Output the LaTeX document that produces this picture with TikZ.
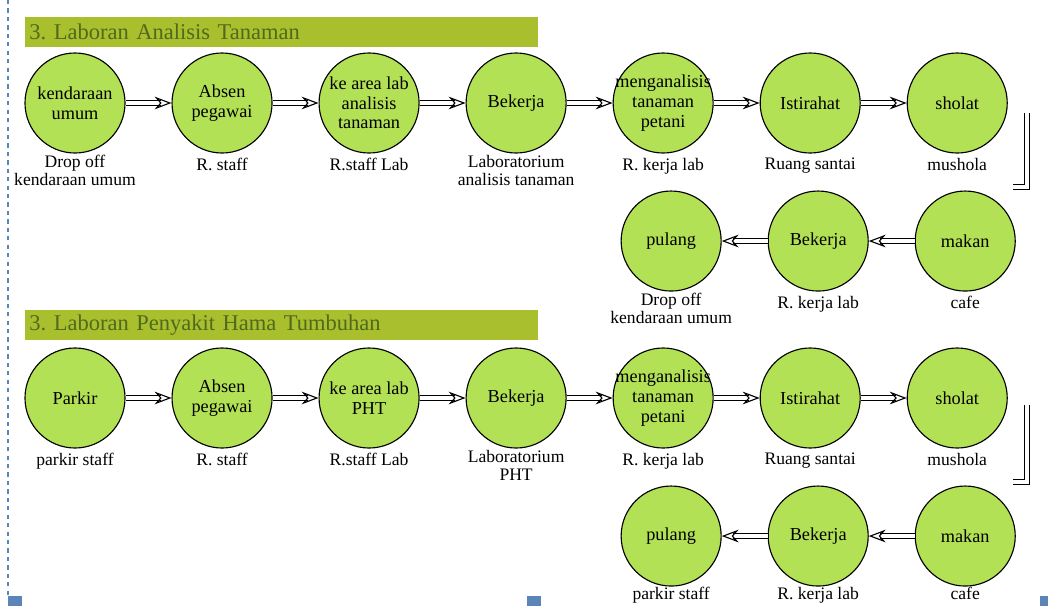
\documentclass[tikz,border=0pt]{standalone}
\usepackage{fontspec}
\setmainfont{Liberation Serif}
\usetikzlibrary{positioning,arrows.meta}
\definecolor{barolive}{HTML}{A9BF2E}
\definecolor{titlegreen}{HTML}{4F6A1C}
\definecolor{circlegreen}{HTML}{B3E155}
\definecolor{edgeblue}{HTML}{5B84B8}

\begin{document}
\frenchspacing
\begin{tikzpicture}[x=0.025cm,y=-0.025cm,
        every node/.style={inner sep=0pt},
        proc/.style={circle,draw,thick,fill=circlegreen,minimum size=2.5cm,on grid,node distance=3.675cm,
          label={[align=center,font=\fontsize{13}{14}\selectfont]center:#1}},
        place/.style={align=center,font=\fontsize{12.5}{13}\selectfont},
        flow/.style={double,double distance=2.5pt,thick,-{Stealth[open,length=12pt,width=9pt]}},
        bracket/.style={double,double distance=2.5pt,thick},
        titlebar/.style={fill=barolive,text=titlegreen,anchor=north west,minimum height=0.75cm,
          text width=12.6cm,inner xsep=3pt,align=left,font=\fontsize{16}{16}\selectfont}]
   \useasboundingbox (0,0) rectangle (1048,606);
   % frame marks
   \draw[edgeblue,thick,dashed] (8,0) -- (8,596);
   \fill[edgeblue] (8,596) rectangle (22,606);
   \fill[edgeblue] (527,596) rectangle (541,606);
   \fill[edgeblue] (1040,596) rectangle (1048,606);

   % laboran analisis tanaman
   \node[titlebar] (T1) at (25,17) {3. Laboran Analisis Tanaman};
   \node[proc={kendaraan\\umum}] (A) at (75,103) {};
   \node[proc={Absen\\pegawai}] (B) [right=of A] {};
   \node[proc={ke area lab\\analisis\\tanaman}] (C) [right=of B] {};
   \node[proc=Bekerja] (D) [right=of C] {};
   \node[proc={menganalisis\\tanaman\\petani}] (E) [right=of D] {};
   \node[proc=Istirahat] (F) [right=of E] {};
   \node[proc=sholat] (G) [right=of F] {};
   \node[proc=pulang] (H) [below=3.45cm of E,xshift=0.2cm] {};
   \node[proc=Bekerja] (I) [right=of H] {};
   \node[proc=makan] (J) [right=of I] {};

   \node[place] (lA) [below=1pt of A] {Drop off\\kendaraan umum};
   \node[place] (lB) [below=3pt of B] {R. staff};
   \node[place] (lC) [below=3pt of C] {R.staff Lab};
   \node[place] (lD) [below=1pt of D] {Laboratorium\\analisis tanaman};
   \node[place] (lE) [below=3pt of E] {R. kerja lab};
   \node[place] (lF) [below=3pt of F] {Ruang santai};
   \node[place] (lG) [below=3pt of G] {mushola};
   \node[place] (lH) [below=1pt of H] {Drop off\\kendaraan umum};
   \node[place] (lI) [below=3pt of I] {R. kerja lab};
   \node[place] (lJ) [below=3pt of J] {cafe};

   \draw[flow] (A) -- (B);
   \draw[flow] (B) -- (C);
   \draw[flow] (C) -- (D);
   \draw[flow] (D) -- (E);
   \draw[flow] (E) -- (F);
   \draw[flow] (F) -- (G);
   \draw[flow] (J) -- (I);
   \draw[flow] (I) -- (H);
   \coordinate (s1) at (1027,113);
   \coordinate (s2) at (1013,187);
   \draw[bracket] (s1) |- (s2);

   % laboran penyakit hama tumbuhan
   \node[titlebar] (T2) at (25,310) {3. Laboran Penyakit Hama Tumbuhan};
   \node[proc=Parkir] (A2) at (75,398) {};
   \node[proc={Absen\\pegawai}] (B2) [right=of A2] {};
   \node[proc={ke area lab\\PHT}] (C2) [right=of B2] {};
   \node[proc=Bekerja] (D2) [right=of C2] {};
   \node[proc={menganalisis\\tanaman\\petani}] (E2) [right=of D2] {};
   \node[proc=Istirahat] (F2) [right=of E2] {};
   \node[proc=sholat] (G2) [right=of F2] {};
   \node[proc=pulang] (H2) [below=3.45cm of E2,xshift=0.2cm] {};
   \node[proc=Bekerja] (I2) [right=of H2] {};
   \node[proc=makan] (J2) [right=of I2] {};

   \node[place] (lA2) [below=3pt of A2] {parkir staff};
   \node[place] (lB2) [below=3pt of B2] {R. staff};
   \node[place] (lC2) [below=3pt of C2] {R.staff Lab};
   \node[place] (lD2) [below=1pt of D2] {Laboratorium\\PHT};
   \node[place] (lE2) [below=3pt of E2] {R. kerja lab};
   \node[place] (lF2) [below=3pt of F2] {Ruang santai};
   \node[place] (lG2) [below=3pt of G2] {mushola};
   \node[place] (lH2) [below=0pt of H2] {parkir staff};
   \node[place] (lI2) [below=0pt of I2] {R. kerja lab};
   \node[place] (lJ2) [below=0pt of J2] {cafe};

   \draw[flow] (A2) -- (B2);
   \draw[flow] (B2) -- (C2);
   \draw[flow] (C2) -- (D2);
   \draw[flow] (D2) -- (E2);
   \draw[flow] (E2) -- (F2);
   \draw[flow] (F2) -- (G2);
   \draw[flow] (J2) -- (I2);
   \draw[flow] (I2) -- (H2);
   \coordinate (s3) at (1027,405);
   \coordinate (s4) at (1013,482);
   \draw[bracket] (s3) |- (s4);
\end{tikzpicture}
\end{document}
